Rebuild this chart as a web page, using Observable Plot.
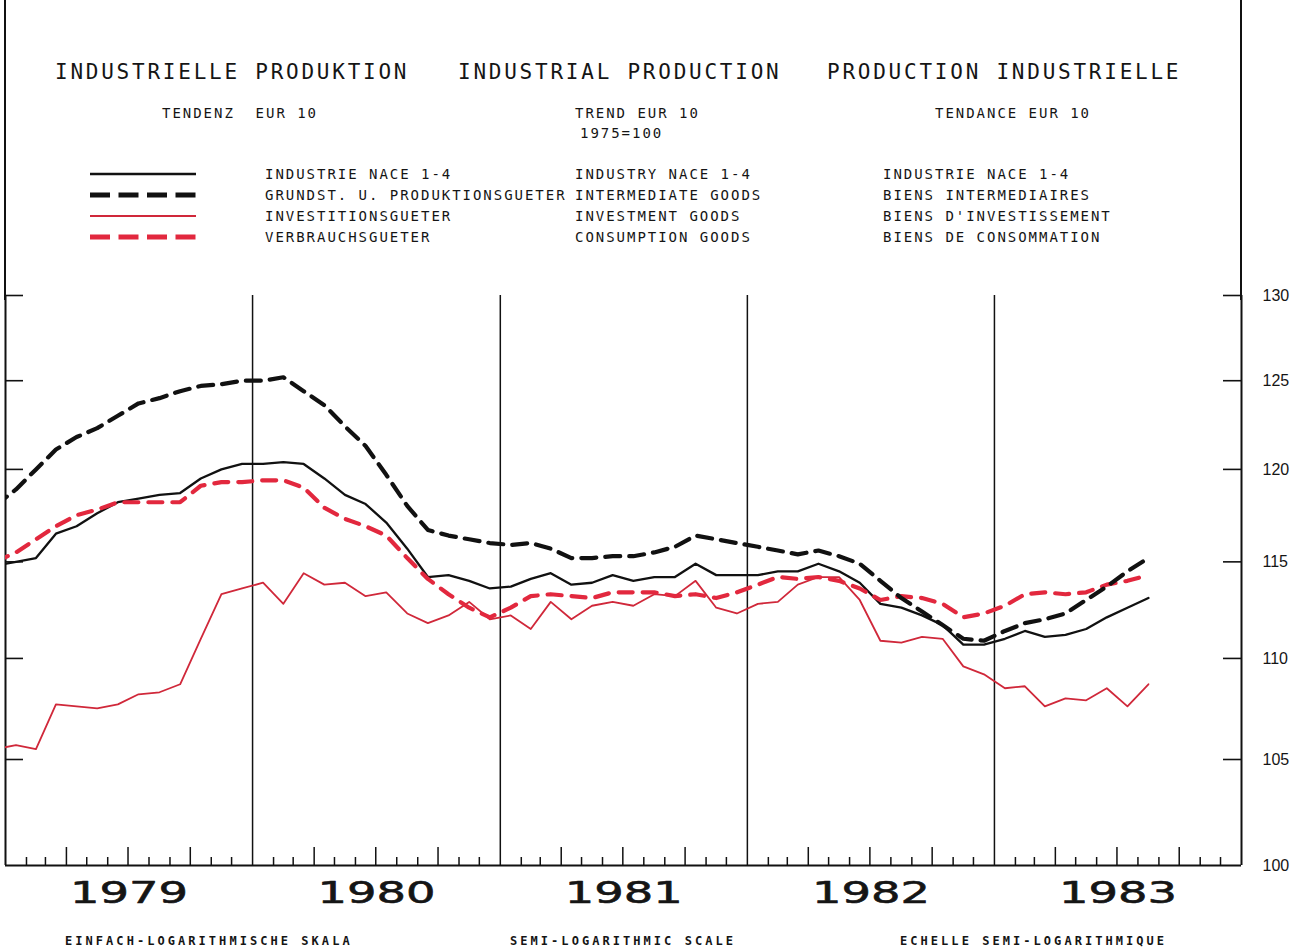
<!DOCTYPE html>
<html>
<head>
<meta charset="utf-8">
<script src="https://cdn.jsdelivr.net/npm/d3@7"></script>
<script src="https://cdn.jsdelivr.net/npm/@observablehq/plot@0.6"></script>
<style>
  html, body { margin: 0; padding: 0; background: #ffffff; }
  #page { position: relative; width: 1304px; height: 949px; overflow: hidden; background: #ffffff; }
  #header { position: absolute; left: 0; top: 0; width: 1304px; height: 280px; }
  #chart { position: absolute; left: 0; top: 280px; }
  #caption { position: absolute; left: 0; top: 925px; width: 1304px; height: 24px; }
  .edge { position: absolute; top: 0; width: 2px; height: 300px; background: #111; }
  .t { position: absolute; white-space: pre; font-family: "DejaVu Sans Mono", monospace; color: #151515; line-height: 20px; height: 20px; }
  .title { font-size: 21px; letter-spacing: 2.76px; }
  .sub { font-size: 14px; letter-spacing: 1.97px; }
  .cap { font-size: 12px; font-weight: bold; letter-spacing: 3.05px; }
  .sw { position: absolute; }
</style>
</head>
<body>
<div id="page">
  <div id="header"></div>
  <div id="chart"></div>
  <div id="caption"></div>
</div>
<script>
// ---------- DATA ----------
const titleTexts = ["INDUSTRIELLE PRODUKTION", "INDUSTRIAL PRODUCTION", "PRODUCTION INDUSTRIELLE"];
const subtitleTexts = ["TENDENZ  EUR 10", "TREND EUR 10", "TENDANCE EUR 10"];
const baseText = "1975=100";
const seriesDE = ["INDUSTRIE NACE 1-4", "GRUNDST. U. PRODUKTIONSGUETER", "INVESTITIONSGUETER", "VERBRAUCHSGUETER"];
const seriesEN = ["INDUSTRY NACE 1-4", "INTERMEDIATE GOODS", "INVESTMENT GOODS", "CONSUMPTION GOODS"];
const seriesFR = ["INDUSTRIE NACE 1-4", "BIENS INTERMEDIAIRES", "BIENS D'INVESTISSEMENT", "BIENS DE CONSOMMATION"];
const captionTexts = ["EINFACH-LOGARITHMISCHE SKALA", "SEMI-LOGARITHMIC SCALE", "ECHELLE SEMI-LOGARITHMIQUE"];
const yearLabels = ["1979", "1980", "1981", "1982", "1983"];
const yTicks = [100, 105, 110, 115, 120, 125, 130];

// monthly trend values, December 1978 .. August 1983
const industry = [114.8,
  115.0,115.2,116.5,116.9,117.6,118.2,118.4,118.6,118.7,119.5,120.0,120.3,
  120.3,120.4,120.3,119.5,118.6,118.1,117.1,115.7,114.2,114.3,114.0,113.6,
  113.7,114.1,114.4,113.8,113.9,114.3,114.0,114.2,114.2,114.9,114.3,114.3,
  114.3,114.5,114.5,114.9,114.5,113.9,112.8,112.6,112.2,111.7,110.7,110.7,
  111.0,111.4,111.1,111.2,111.5,112.1,112.6,113.1];
const intermediate = [118.0,
  118.9,120.0,121.1,121.8,122.3,123.0,123.7,124.0,124.4,124.7,124.8,125.0,
  125.0,125.2,124.4,123.6,122.4,121.3,119.7,118.0,116.7,116.4,116.2,116.0,
  115.9,116.0,115.7,115.2,115.2,115.3,115.3,115.5,115.8,116.4,116.2,116.0,
  115.8,115.6,115.4,115.6,115.3,114.9,114.0,113.1,112.4,111.7,111.0,110.9,
  111.4,111.8,112.0,112.3,113.0,113.7,114.5,115.2];
const investment = [105.5,
  105.7,105.5,107.7,107.6,107.5,107.7,108.2,108.3,108.7,111.0,113.3,113.6,
  113.9,112.8,114.4,113.8,113.9,113.2,113.4,112.3,111.8,112.2,112.9,112.0,
  112.2,111.5,112.9,112.0,112.7,112.9,112.7,113.3,113.2,114.0,112.6,112.3,
  112.8,112.9,113.8,114.2,114.2,113.0,110.9,110.8,111.1,111.0,109.6,109.2,
  108.5,108.6,107.6,108.0,107.9,108.5,107.6,108.7];
const consumption = [115.0,
  115.5,116.2,116.9,117.5,117.8,118.2,118.2,118.2,118.2,119.1,119.3,119.3,
  119.4,119.4,119.0,117.9,117.3,116.9,116.4,115.2,114.1,113.3,112.6,112.1,
  112.6,113.2,113.3,113.2,113.1,113.4,113.4,113.4,113.2,113.3,113.1,113.4,
  113.8,114.2,114.1,114.2,114.0,113.6,113.0,113.2,113.1,112.8,112.1,112.3,
  112.7,113.3,113.4,113.3,113.4,113.8,114.0,114.3];

// ---------- STYLE ----------
const seriesValues = [industry, intermediate, investment, consumption];
const seriesColor = ["#111111", "#111111", "#d0283a", "#e2283e"];
const seriesWidth = [2.3, 4.2, 1.8, 4.2];
const seriesDash = [null, "15,9", null, "14,10"];
const swatchWidth = [2.5, 5, 2, 5];
const swatchDash = [null, "20,8.5", null, "20,8.5"];

// ---------- HEADER ----------
const header = document.getElementById("header");
function place(parent, text, x, yc, cls) {
  const d = document.createElement("div");
  d.className = "t " + cls;
  d.textContent = text;
  d.style.left = x + "px";
  d.style.top = (yc - 10) + "px";
  parent.appendChild(d);
}
[5, 1241].forEach(x => {
  const e = document.createElement("div");
  e.className = "edge";
  e.style.left = (x - 1) + "px";
  header.appendChild(e);
});
const titleX = [55, 458, 827];
titleTexts.forEach((t, i) => place(header, t, titleX[i], 72, "title"));
const subX = [162, 575, 935];
subtitleTexts.forEach((t, i) => place(header, t, subX[i], 113, "sub"));
place(header, baseText, 580, 133, "sub");
const rowY = [174, 195, 216, 237];
const colX = [265, 575, 883];
[seriesDE, seriesEN, seriesFR].forEach((col, c) =>
  col.forEach((t, r) => place(header, t, colX[c], rowY[r], "sub")));
seriesColor.forEach((col, r) => {
  const s = d3.create("svg").attr("class", "sw").attr("width", 106).attr("height", 10)
    .style("left", "90px").style("top", (rowY[r] - 5) + "px");
  s.append("line").attr("x1", 0).attr("x2", 106).attr("y1", 5).attr("y2", 5)
    .attr("stroke", col).attr("stroke-width", swatchWidth[r])
    .attr("stroke-dasharray", swatchDash[r]);
  header.appendChild(s.node());
});

// ---------- CAPTION ----------
const caption = document.getElementById("caption");
const capX = [65, 510, 900];
captionTexts.forEach((t, i) => place(caption, t, capX[i], 16, "cap"));

// ---------- CHART ----------
const start = new Date(Date.UTC(1979, 0, 1));
const end = new Date(Date.UTC(1984, 0, 1));
const firstMonth = new Date(Date.UTC(1978, 11, 1));
function midMonth(i) {
  const m0 = d3.utcMonth.offset(firstMonth, i);
  const m1 = d3.utcMonth.offset(m0, 1);
  return new Date((+m0 + +m1) / 2);
}
const rows = [];
seriesValues.forEach((vals, s) => vals.forEach((v, i) => rows.push({s, date: midMonth(i), value: v})));

const W = 1304, H = 645, mT = 15, mB = 60, mL = 5, mR = 63;
const frameH = H - mT - mB, frameW = W - mL - mR;
const months = d3.utcMonth.range(start, end).filter(d => d.getUTCMonth() !== 0);
const smallTicks = months.filter(d => d.getUTCMonth() % 3 !== 0);
const bigTicks = months.filter(d => d.getUTCMonth() % 3 === 0);
const yearStarts = d3.utcYear.range(start, end).slice(1);
const years = yearLabels.map(y => {
  const a = new Date(Date.UTC(+y, 0, 1)), b = new Date(Date.UTC(+y + 1, 0, 1));
  return {label: y, date: new Date((+a + +b) / 2)};
});
const innerTicks = yTicks.filter(v => v !== 100);

const lineOrder = [2, 0, 3, 1];
const chart = Plot.plot({
  width: W, height: H,
  marginTop: mT, marginBottom: mB, marginLeft: mL, marginRight: mR,
  style: {fontFamily: "Liberation Sans, Arial, sans-serif", fontSize: "16px", color: "#151515", background: "transparent"},
  x: {type: "utc", domain: [start, end], axis: null},
  y: {type: "log", domain: [100, 130], axis: null, label: null},
  marks: [
    Plot.ruleX([start, end], {strokeWidth: 2, stroke: "#111"}),
    Plot.ruleY([100], {strokeWidth: 2, stroke: "#111"}),
    Plot.ruleX(yearStarts, {strokeWidth: 1.5, stroke: "#111"}),
    Plot.ruleX(smallTicks, {insetTop: frameH - 8, strokeWidth: 1.5, stroke: "#111"}),
    Plot.ruleX(bigTicks, {insetTop: frameH - 18, strokeWidth: 1.5, stroke: "#111"}),
    Plot.ruleY(innerTicks, {insetLeft: frameW - 18, strokeWidth: 1.6, stroke: "#111"}),
    Plot.ruleY(innerTicks, {insetRight: frameW - 18, strokeWidth: 1.6, stroke: "#111"}),
    Plot.axisY({anchor: "right", ticks: yTicks, tickSize: 0, tickPadding: 21, tickFormat: d => String(d), label: null, fontSize: 16}),
    Plot.text(years, {x: "date", text: "label", frameAnchor: "bottom", dy: 37, fontSize: 31, fontFamily: "DejaVu Sans", fill: "#151515", stroke: "#151515", strokeWidth: 0.6}),
    ...lineOrder.map(s => Plot.line(rows.filter(r => r.s === s), {
      x: "date", y: "value", stroke: seriesColor[s], strokeWidth: seriesWidth[s],
      strokeDasharray: seriesDash[s] || undefined, strokeLinejoin: "round", clip: true
    }))
  ]
});
chart.querySelectorAll("text").forEach(t => {
  if (yearLabels.includes(t.textContent.trim())) {
    t.setAttribute("textLength", 118);
    t.setAttribute("lengthAdjust", "spacingAndGlyphs");
  }
});
document.getElementById("chart").appendChild(chart);
</script>
</body>
</html>
